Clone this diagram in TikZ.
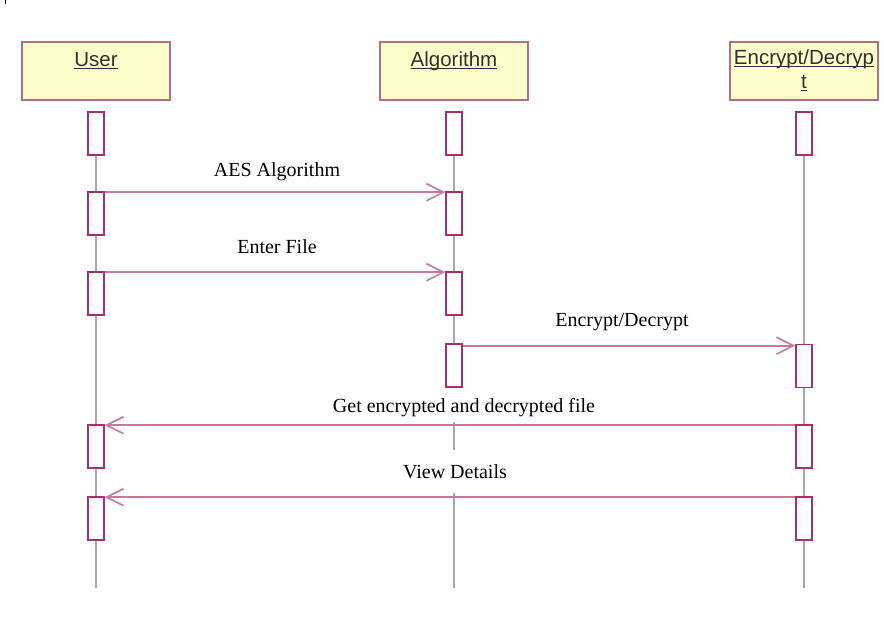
\documentclass[tikz,border=0pt]{standalone}
\usepackage{fontspec}
\setmainfont{Liberation Serif}
\newfontfamily\headfont{Liberation Sans}
\usetikzlibrary{arrows.meta}
\definecolor{headfill}{HTML}{FFFFCC}
\definecolor{headdraw}{HTML}{B07080}
\definecolor{actdraw}{HTML}{A8306A}
\definecolor{msgcol}{HTML}{C47A98}
\definecolor{lifecol}{HTML}{A8A8A8}
\definecolor{headtext}{HTML}{303030}
\newcommand\myul[1]{\setbox0\hbox{#1}\rlap{\vrule height -1.6pt depth 3pt width \wd0}\box0}
\tikzset{
  head/.style={draw=headdraw, fill=headfill, line width=1.3pt, minimum width=148pt, minimum height=58pt, inner sep=0pt},
  headlabel/.style={font=\headfont\fontsize{20.5}{24}\selectfont, text=headtext, anchor=base, inner sep=0pt},
  act/.style={draw=actdraw, fill=white, line width=1.6pt, minimum width=16pt, minimum height=43pt, inner sep=0pt},
  life/.style={draw=lifecol, line width=1.5pt},
  msg/.style={draw=msgcol, line width=1.6pt, -{Straight Barb[length=17pt,width=17pt,line width=1.6pt]}},
  msglabel/.style={font=\fontsize{20}{23}\selectfont, anchor=base, inner sep=0pt}
}
\begin{document}
\begin{tikzpicture}[x=1pt,y=-1pt]
\useasboundingbox (0,0) rectangle (884,625);
\draw[line width=0.8pt] (5,0) -- (5,4);
% heads
\node[head] (hu) at (96,71) {};
\node[head] (ha) at (454,71) {};
\node[head] (he) at (804,71) {};
\node[headlabel] (tu) at (96,66) {\myul{User}};
\node[headlabel] (ta) at (454,66) {\myul{Algorithm}};
\node[headlabel] (te) at (804,64) {\myul{Encrypt/Decryp}};
\node[headlabel] (te2) at (804,88) {\myul{t}};
% end coordinates
\coordinate (uend) at (96,588);
\coordinate (eend) at (804,588);
\coordinate (aseg1s) at (454,422);
\coordinate (aseg1e) at (454,450);
\coordinate (aseg2s) at (454,493);
\coordinate (aend) at (454,588);
% activations
\node[act] (u1) at (96,133.5) {};
\node[act] (u2) at (96,213.5) {};
\node[act] (u3) at (96,293.5) {};
\node[act] (u4) at (96,446.5) {};
\node[act] (u5) at (96,518.5) {};
\node[act] (a1) at (454,133.5) {};
\node[act] (a2) at (454,213.5) {};
\node[act] (a3) at (454,293.5) {};
\node[act] (a4) at (454,365.5) {};
\node[act] (e1) at (804,133.5) {};
\node[act] (e2) at (804,366) {};
\node[act] (e3) at (804,446.5) {};
\node[act] (e4) at (804,518.5) {};
% lifelines
\draw[life] (u1.south) -- (u2.north);
\draw[life] (u2.south) -- (u3.north);
\draw[life] (u3.south) -- (u4.north);
\draw[life] (u4.south) -- (u5.north);
\draw[life] (u5.south) -- (uend);
\draw[life] (a1.south) -- (a2.north);
\draw[life] (a2.south) -- (a3.north);
\draw[life] (a3.south) -- (a4.north);
\draw[life] (aseg1s) -- (aseg1e);
\draw[life] (aseg2s) -- (aend);
\draw[life] (e1.south) -- (e2.north);
\draw[life] (e2.south) -- (e3.north);
\draw[life] (e3.south) -- (e4.north);
\draw[life] (e4.south) -- (eend);
% messages
\draw[msg] ([yshift=-1pt]u2.north east) -- ([yshift=-1pt]a2.north west);
\draw[msg] ([yshift=-1pt]u3.north east) -- ([yshift=-1pt]a3.north west);
\draw[msg] ([yshift=-2.5pt]a4.north east) -- ([yshift=-2pt]e2.north west);
\draw[msg] ([yshift=-1pt]e3.north west) -- ([yshift=-1pt]u4.north east);
\draw[msg] ([yshift=-1pt]e4.north west) -- ([yshift=-1pt]u5.north east);
% labels
\node[msglabel] (l1) at (277,176) {AES Algorithm};
\node[msglabel] (l2) at (277,253) {Enter File};
\node[msglabel] (l3) at (622,326) {Encrypt/Decrypt};
\node[msglabel] (l4) at (464,412) {Get encrypted and decrypted file};
\node[msglabel] (l5) at (455,478) {View Details};
\end{tikzpicture}
\end{document}
